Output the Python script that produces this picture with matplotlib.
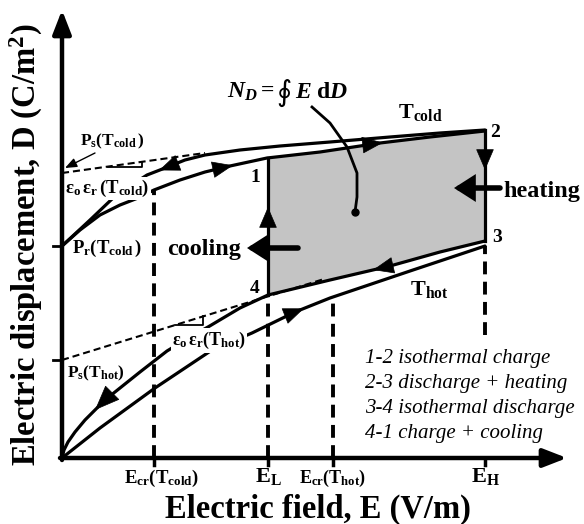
import numpy as np
import matplotlib.pyplot as plt

plt.rcParams['font.family'] = 'Liberation Serif'
plt.rcParams['mathtext.fontset'] = 'custom'
plt.rcParams['mathtext.rm'] = 'Liberation Serif:bold'
plt.rcParams['mathtext.bf'] = 'Liberation Serif:bold'
plt.rcParams['mathtext.it'] = 'Liberation Serif:italic'
plt.rcParams['mathtext.bfit'] = 'Liberation Serif:italic:bold'
plt.rcParams['mathtext.fallback'] = 'stix'

# Olsen cycle sketch, field E and displacement D in arbitrary units
# cold isotherm, field going down (upper branch)
cold_dn_E = [4.23, 3.78, 3.28, 2.68, 2.18, 1.78, 1.43, 1.23, 1.03, 0.85, 0.68, 0.50, 0.28, 0.0]
cold_dn_D = [3.28, 3.25, 3.21, 3.16, 3.12, 3.08, 3.03, 2.98, 2.90, 2.83, 2.72, 2.59, 2.38, 2.12]
# cold isotherm, field going up
cold_up_E = [0.0, 0.18, 0.38, 0.58, 0.76, 0.92, 1.18, 1.43, 1.68, 2.05, 2.58, 3.18, 3.68, 4.23]
cold_up_D = [2.12, 2.28, 2.43, 2.53, 2.60, 2.68, 2.78, 2.86, 2.92, 3.00, 3.06, 3.15, 3.21, 3.27]
# hot isotherm, field going down
hot_dn_E = [4.23, 3.78, 3.28, 2.68, 2.06, 1.78, 1.46, 1.28, 1.05, 0.78, 0.43, 0.23, 0.13, 0.06, 0.02, 0.0]
hot_dn_D = [2.17, 2.06, 1.92, 1.78, 1.63, 1.50, 1.31, 1.21, 1.07, 0.86, 0.58, 0.38, 0.26, 0.16, 0.08, 0.0]
# hot isotherm, field going up
hot_up_E = [0.0, 0.38, 0.93, 1.50, 1.90, 2.33, 2.68, 3.51, 4.23]
hot_up_D = [0.0, 0.30, 0.70, 1.08, 1.25, 1.46, 1.60, 1.88, 2.12]

E_cr_cold, E_L, E_cr_hot, E_H = 0.92, 2.06, 2.71, 4.23
Pr_cold, Ps_cold, Ps_hot = 2.12, 2.85, 0.98
eps_cold, eps_hot = 0.14, 0.309   # slopes of the saturation tangents

steps = ['1-2 isothermal charge', '2-3 discharge + heating',
         '3-4 isothermal discharge', '4-1 charge + cooling']

# pointer from the N_D formula into the loop
ptr_E = [2.50, 2.68, 2.85, 2.95, 2.95, 2.93]
ptr_D = [3.51, 3.35, 3.11, 2.85, 2.61, 2.46]


def at(E, Es, Ds):
    o = np.argsort(Es)
    return float(np.interp(E, np.asarray(Es)[o], np.asarray(Ds)[o]))


def head(ax, E, Es, Ds, sign, ms=20, hl=0.7, hw=0.28):
    # arrowhead sitting on a branch, tip at field E
    tip = (E, at(E, Es, Ds))
    tail = (E - 0.02 * sign, at(E - 0.02 * sign, Es, Ds))
    ax.annotate('', xy=tip, xytext=tail,
                arrowprops=dict(arrowstyle=f'-|>,head_length={hl},head_width={hw}',
                                color='k', lw=0.5, shrinkA=0, shrinkB=0,
                                mutation_scale=ms), zorder=6)


fig = plt.figure(figsize=(5.84, 5.24), dpi=100)
ax = fig.add_axes([0, 0, 1, 1])
ax.set_xlim(-0.62, 5.22)
ax.set_ylim(-0.66, 4.58)
ax.axis('off')

# shaded work area enclosed by the cycle
top_E = [E_L] + [e for e in cold_up_E if E_L < e < E_H] + [E_H]
bot_E = [E_H] + [e for e in hot_dn_E if E_L < e < E_H] + [E_L]
top_D = [at(e, cold_up_E, cold_up_D) for e in top_E]
bot_D = [at(e, hot_dn_E, hot_dn_D) for e in bot_E]
ax.fill(top_E + bot_E, top_D + bot_D, color='#c4c4c4', lw=0, zorder=1)

lw = 2.3
for Es, Ds in [(cold_dn_E, cold_dn_D), (cold_up_E, cold_up_D),
               (hot_dn_E, hot_dn_D), (hot_up_E, hot_up_D)]:
    ax.plot(Es, Ds, color='k', lw=lw, solid_capstyle='round', zorder=3)

# saturation tangents and slope markers
e = np.array([0, 1.43])
ax.plot(e, Ps_cold + eps_cold * e, 'k', lw=1.5, dashes=(3.4, 1.9), zorder=2)
e = np.array([0, 2.6])
ax.plot(e, Ps_hot + eps_hot * e, 'k', lw=1.5, dashes=(3.4, 1.9), zorder=2)
d0 = Ps_cold + eps_cold * 0.46
ax.plot([0.46, 0.80, 0.80], [d0, d0, Ps_cold + eps_cold * 0.80], 'k', lw=1.3, zorder=2)
d0 = Ps_hot + eps_hot * 1.13
ax.plot([1.13, 1.41, 1.41], [d0, d0, Ps_hot + eps_hot * 1.41], 'k', lw=1.3, zorder=2)

# isofield legs of the cycle
ax.plot([E_L, E_L], [at(E_L, hot_dn_E, hot_dn_D), at(E_L, cold_up_E, cold_up_D)],
        'k', lw=lw, zorder=3)
ax.plot([E_H, E_H], [at(E_H, hot_dn_E, hot_dn_D), at(E_H, cold_dn_E, cold_dn_D)],
        'k', lw=lw, zorder=3)
ax.annotate('', xy=(E_L, 2.51), xytext=(E_L, 2.3),
            arrowprops=dict(arrowstyle='-|>,head_length=0.7,head_width=0.3',
                            color='k', lw=0.5, shrinkA=0, shrinkB=0, mutation_scale=20), zorder=6)
ax.annotate('', xy=(E_H, 2.88), xytext=(E_H, 3.1),
            arrowprops=dict(arrowstyle='-|>,head_length=0.7,head_width=0.3',
                            color='k', lw=0.5, shrinkA=0, shrinkB=0, mutation_scale=20), zorder=6)

# dashed guides down to the field axis
dash = dict(color='k', lw=2.8, dashes=(3.3, 1.9), zorder=2)
ax.plot([E_cr_cold, E_cr_cold], [0, at(E_cr_cold, cold_up_E, cold_up_D)], **dash)
ax.plot([E_L, E_L], [0, at(E_L, hot_dn_E, hot_dn_D)], **dash)
ax.plot([E_cr_hot, E_cr_hot], [0, at(E_cr_hot, hot_up_E, hot_up_D)], **dash)
ax.plot([E_H, E_H], [1.23, at(E_H, hot_up_E, hot_up_D)], **dash)

# direction arrows on the branches
head(ax, 0.97, cold_dn_E, cold_dn_D, -1)
head(ax, 1.71, cold_up_E, cold_up_D, 1)
head(ax, 3.21, cold_up_E, cold_up_D, 1)
head(ax, 3.11, hot_dn_E, hot_dn_D, -1)
head(ax, 0.33, hot_dn_E, hot_dn_D, -1, ms=24)
head(ax, 2.42, hot_up_E, hot_up_D, 1)

# axes with arrow tips
ax.annotate('', xy=(5.05, 0), xytext=(-0.02, 0),
            arrowprops=dict(arrowstyle='-|>,head_length=0.9,head_width=0.35',
                            color='k', lw=3.2, shrinkA=0, shrinkB=0, mutation_scale=16), zorder=5)
ax.annotate('', xy=(0, 4.48), xytext=(0, -0.02),
            arrowprops=dict(arrowstyle='-|>,head_length=0.9,head_width=0.35',
                            color='k', lw=3.2, shrinkA=0, shrinkB=0, mutation_scale=16), zorder=5)
for d in [Pr_cold, Ps_hot]:
    ax.plot([-0.09, 0], [d, d], 'k', lw=2, zorder=5)
for e in [E_cr_cold, E_L, E_cr_hot, E_H]:
    ax.plot([e, e], [0, -0.07], 'k', lw=2.5, zorder=5)

# heating / cooling block arrows
blk = dict(arrowstyle='-|>,head_length=0.5,head_width=0.32', color='k', lw=4,
           shrinkA=0, shrinkB=0, mutation_scale=20, joinstyle='miter')
ax.annotate('', xy=(1.85, 2.10), xytext=(2.36, 2.10), arrowprops=blk, zorder=6)
ax.annotate('', xy=(3.92, 2.70), xytext=(4.38, 2.70), arrowprops=blk, zorder=6)

ax.plot(ptr_E, ptr_D, 'k', lw=2, zorder=6)
ax.plot(ptr_E[-1], ptr_D[-1], 'ko', ms=5, zorder=6)

# text
bold = dict(fontweight='bold', color='k')
ax.text(2.56, -0.60, 'Electric field, E (V/m)', fontsize=23.5, ha='center', va='baseline', **bold)
ax.text(-0.36, 2.13, r'Electric displacement, D (C/m$^{\mathbf{2}}$)', fontsize=23.5,
        rotation=90, ha='center', va='center', **bold)
ax.text(4.41, 2.61, 'heating', fontsize=17.5, ha='left', va='baseline', **bold)
ax.text(1.05, 2.03, 'cooling', fontsize=17.5, ha='left', va='baseline', **bold)
for i, s in enumerate(steps):
    ax.text(3.03, 0.95 - 0.25 * i, s, fontsize=15, fontstyle='italic', ha='left', va='baseline')

ax.text(3.36, 3.40, r'$\mathrm{T_{cold}}$', fontsize=16, ha='left', va='baseline')
ax.text(3.48, 1.63, r'$\mathrm{T_{hot}}$', fontsize=16, ha='left', va='baseline')
ax.text(1.93, 2.76, '1', fontsize=14, ha='center', va='baseline', **bold)
ax.text(4.28, 3.21, '2', fontsize=14, ha='left', va='baseline', **bold)
ax.text(4.30, 2.16, '3', fontsize=14, ha='left', va='baseline', **bold)
ax.text(1.93, 1.65, '4', fontsize=14, ha='center', va='baseline', **bold)

ax.text(E_cr_cold + 0.07, -0.25, r'$\mathrm{E_{cr}(T_{cold})}$', fontsize=13.5, ha='center', va='baseline')
ax.text(E_cr_hot, -0.25, r'$\mathrm{E_{cr}(T_{hot})}$', fontsize=13, ha='center', va='baseline')
ax.text(E_L, -0.24, r'$\mathrm{E_L}$', fontsize=16, ha='center', va='baseline')
ax.text(E_H, -0.24, r'$\mathrm{E_H}$', fontsize=16, ha='center', va='baseline')

ax.text(0.10, 2.05, r'$\mathrm{P_r(T_{cold}\,)}$', fontsize=13.5, ha='left', va='baseline')
ax.text(0.05, 0.81, r'$\mathrm{P_s(T_{hot})}$', fontsize=12.5, ha='left', va='baseline')
wbox = dict(facecolor='white', edgecolor='none', pad=1)
ax.text(0.03, 2.65, r'$\mathrm{ε_o\,ε_r\,(T_{cold})}$', fontsize=13.5, ha='left', va='baseline',
        bbox=wbox, zorder=4)
ax.text(1.10, 1.13, r'$\mathrm{ε_o\,ε_r(T_{hot})}$', fontsize=13, ha='left', va='baseline',
        bbox=wbox, zorder=4)
ax.text(0.18, 3.13, r'$\mathrm{P_s(T_{cold}\,)}$', fontsize=12.5, ha='left', va='baseline')
ax.annotate('', xy=(0.03, 2.90), xytext=(0.33, 3.05),
            arrowprops=dict(arrowstyle='-|>,head_length=0.5,head_width=0.2', color='k',
                            lw=1, shrinkA=0, shrinkB=0, mutation_scale=14))

# work per cycle, N_D = closed integral of E dD
ax.text(1.65, 3.60, r'$\mathbfit{N}_{\mathbfit{D}}=$', fontsize=17, ha='left', va='baseline')
ax.text(2.14, 3.57, '∮', fontsize=21, family='DejaVu Sans', ha='left', va='baseline')
ax.text(2.33, 3.60, r'$\mathbfit{E}\ \mathrm{d}\mathbfit{D}$', fontsize=17, ha='left', va='baseline')

fig.savefig('out.png', dpi=100)
